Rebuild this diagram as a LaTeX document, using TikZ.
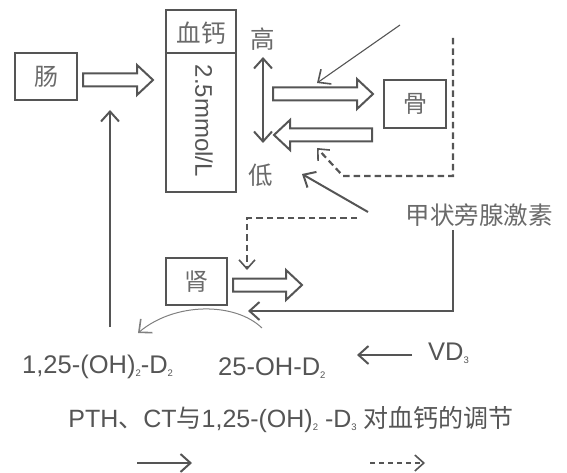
\documentclass[tikz,border=0pt]{standalone}
\usepackage{fontspec}
\setmainfont{Liberation Sans}
\newfontfamily\cjk{Noto Sans CJK SC}
\usetikzlibrary{arrows.meta,calc}
\definecolor{ink}{HTML}{555555}
\definecolor{soft}{HTML}{6A6A6A}
\newcommand\mysub[1]{\raisebox{-0.1em}{\fontsize{9.5}{9.5}\selectfont #1}}
\newcommand\BArrow[3]{%
  \draw[barrow] (#1,#3-6.5) -- ($(#2,#3-6.5)!16pt!(#1,#3-6.5)$)
    -- ($(#2,#3-15)!16pt!(#1,#3-15)$) -- (#2,#3)
    -- ($(#2,#3+15)!16pt!(#1,#3+15)$) -- ($(#2,#3+6.5)!16pt!(#1,#3+6.5)$)
    -- (#1,#3+6.5) -- cycle;}
\begin{document}
\begin{tikzpicture}[x=1pt,y=-1pt,
  box/.style={draw=ink,line width=2.2pt,inner sep=0pt,text=soft,font=\cjk\fontsize{24}{26}\selectfont},
  lbl/.style={inner sep=0pt,text=soft,font=\cjk\fontsize{24.5}{26}\selectfont},
  latin/.style={inner sep=0pt,text=ink,font=\fontsize{25.5}{27}\selectfont},
  barrow/.style={draw=ink,line width=2pt,line join=miter},
  conn/.style={draw=ink,line width=2pt,-{Straight Barb[length=10pt,width=18pt,line width=2pt]}},
  thin/.style={draw=ink,line width=1.1pt,-{Straight Barb[length=10pt,width=18pt,line width=1.6pt]}},
  dashl/.style={draw=ink,line width=2.2pt,dash pattern=on 6.5pt off 4pt,-{Straight Barb[length=9pt,width=16pt,line width=1.6pt]}},
  ]
\useasboundingbox (0,0) rectangle (567,473);

% boxes
\node[box,minimum width=62pt,minimum height=47pt] (gut) at (46,76.5) {肠};
\node[box,minimum width=70pt,minimum height=182pt] (blood) at (201,101) {};
\draw[ink,line width=2.2pt] (blood.west |- 0,53) -- (blood.east |- 0,53);
\node[lbl] (xg) at (201,33) {血钙};
\node[latin,rotate=-90,font=\fontsize{24}{26}\selectfont] (conc) at (204,121) {2.5mmol/L};
\node[box,minimum width=62pt,minimum height=48pt] (bone) at (415,104) {骨};
\node[box,minimum width=61pt,minimum height=47pt] (kid) at (196.5,281.5) {肾};

\node[lbl] (hi) at (263,39) {高};
\node[lbl] (lo) at (261,175) {低};
\node[lbl] (pth) at (479,215) {甲状旁腺激素};

% block arrows
\BArrow{83}{153}{80}
\BArrow{273}{373}{94}
\BArrow{372}{274}{135}
\BArrow{233}{302}{285}

% high-low double arrow
\coordinate (hiA) at (263,57);
\coordinate (loA) at (263,143);
\draw[draw=ink,line width=2pt,{Straight Barb[length=10pt,width=18pt,line width=2pt]}-{Straight Barb[length=10pt,width=18pt,line width=2pt]}] (hiA) -- (loA);

% thin arrow from top
\coordinate (topS) at (400,25);
\coordinate (topE) at (317,83);
\draw[thin] (topS) -- (topE);

% dashed from top right to lower arrow
\coordinate (dA) at (453,38);
\coordinate (dB) at (453,176);
\coordinate (dC) at (343,176);
\coordinate (dE) at (317,148);
\draw[dashl] (dA) -- (dB) -- (dC) -- (dE);

% PTH to low
\coordinate (pS) at (368,212);
\coordinate (pE) at (302,174);
\draw[conn] (pS) -- (pE);

% PTH down to kidney
\coordinate (kA) at (453,230);
\coordinate (kB) at (453,311);
\coordinate (kE) at (248,311);
\draw[conn] (kA) -- (kB) -- (kE);

% dashed to kidney arrow
\coordinate (eA) at (357,218);
\coordinate (eB) at (247,218);
\coordinate (eE) at (247,270);
\draw[dashl] (eA) -- (eB) -- (eE);

% bottom texts
\node[latin,anchor=west] (d125) at (22,367) {1,25-(OH)\mysub{2}-D\mysub{2}};
\node[latin,anchor=west] (d25) at (218,368) {25-OH-D\mysub{2}};
\node[latin,anchor=west] (vd3) at (428,353) {VD\mysub{3}};

% up arrow to gut arrow
\coordinate (upS) at (110,327);
\coordinate (upE) at (110,110);
\draw[conn] (upS) -- (upE);

% curved gray arrow
\coordinate (cS) at (262,328);
\coordinate (cE) at (138,333);
\draw[draw=gray,line width=1pt,-{Straight Barb[length=10pt,width=18pt,line width=1.6pt]}] (cS) .. controls (235,302) and (175,302) .. (cE);

% VD3 arrow
\coordinate (vS) at (412,355);
\coordinate (vE) at (357,355);
\draw[conn,line width=1.6pt] (vS) -- (vE);

% title
\node[inner sep=0pt,text=ink,font=\fontsize{25}{27}\selectfont] (title) at (291,420)
  {PTH{\cjk 、}CT{\cjk 与}1,25-(OH)\mysub{2} -D\mysub{3} {\cjk 对血钙的调节}};

% legend
\coordinate (l1S) at (137,463);
\coordinate (l1E) at (192,463);
\draw[conn,line width=1.6pt] (l1S) -- (l1E);
\coordinate (l2S) at (370,463);
\coordinate (l2E) at (425,463);
\draw[dashl,line width=1.6pt,dash pattern=on 5pt off 4pt] (l2S) -- (l2E);
\end{tikzpicture}
\end{document}
